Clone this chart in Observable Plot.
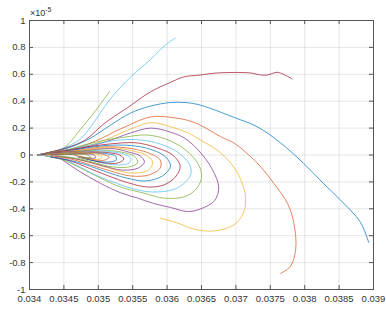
<!DOCTYPE html>
<html><head><meta charset="utf-8">
<script src="https://cdn.jsdelivr.net/npm/d3@7"></script>
<script src="https://cdn.jsdelivr.net/npm/@observablehq/plot@0.6"></script>
<style>body{margin:0;background:#fff;}</style>
</head><body><div id="chart"></div>
<script>
const xTicks = [0.034,0.0345,0.035,0.0355,0.036,0.0365,0.037,0.0375,0.038,0.0385,0.039];
const yTicks = [-1,-0.8,-0.6,-0.4,-0.2,0,0.2,0.4,0.6,0.8,1];
const yExponent = "-5";
const colorOrder = ["#77AC30","#4DBEEE","#A2142F","#0072BD","#D95319","#EDB120","#7E2F8E"];

// x values of each trajectory (outermost first)
const curveX = [
  [0.03412,0.03438,0.03452,0.03474,0.03496,0.03516],
  [0.03412,0.03438,0.03457,0.03474,0.03489,0.03518,0.03547,0.03576,0.03598,0.03612],
  [0.03412,0.03438,0.03457,0.03481,0.03510,0.03542,0.03576,0.03605,0.03624,0.03649,0.03673,0.03721,0.03736,0.03746,0.03760,0.03769,0.03782],
  [0.03412,0.03438,0.03460,0.03489,0.03518,0.03547,0.03576,0.03605,0.03627,0.03649,0.03697,0.03731,0.03765,0.03798,0.03827,0.03852,0.03881,0.03893],
  [0.03412,0.03438,0.03463,0.03496,0.03532,0.03576,0.03605,0.03638,0.03682,0.03697,0.03731,0.03755,0.03775,0.03784,0.03787,0.03779,0.03765],
  [0.03412,0.03438,0.03467,0.03503,0.03540,0.03576,0.03605,0.03630,0.03649,0.03678,0.03702,0.03714,0.03711,0.03697,0.03667,0.03638,0.03615,0.03590],
  [0.03412,0.03438,0.03471,0.03510,0.03547,0.03576,0.03605,0.03627,0.03649,0.03666,0.03675,0.03669,0.03649,0.03630,0.03605,0.03580,0.03557,0.03532,0.03503,0.03474,0.03448],
  [0.03412,0.03431,0.03449,0.03474,0.03503,0.03540,0.03569,0.03598,0.03627,0.03646,0.03650,0.03641,0.03624,0.03595,0.03566,0.03532,0.03503,0.03474,0.03449,0.03423],
  [0.03412,0.03431,0.03449,0.03474,0.03503,0.03532,0.03561,0.03590,0.03617,0.03633,0.03634,0.03615,0.03586,0.03557,0.03525,0.03496,0.03471,0.03449,0.03423],
  [0.03412,0.03431,0.03449,0.03474,0.03503,0.03532,0.03558,0.03586,0.03608,0.03619,0.03612,0.03595,0.03572,0.03544,0.03515,0.03486,0.03460,0.03431],
  [0.03412,0.03431,0.03449,0.03474,0.03503,0.03529,0.03554,0.03579,0.03598,0.03605,0.03593,0.03569,0.03541,0.03512,0.03483,0.03457,0.03431],
  [0.03412,0.03431,0.03449,0.03474,0.03503,0.03529,0.03551,0.03573,0.03590,0.03590,0.03573,0.03547,0.03518,0.03489,0.03460,0.03431],
  [0.03412,0.03431,0.03449,0.03477,0.03503,0.03528,0.03550,0.03569,0.03579,0.03573,0.03551,0.03525,0.03496,0.03467,0.03438],
  [0.03412,0.03431,0.03452,0.03478,0.03503,0.03525,0.03544,0.03561,0.03567,0.03558,0.03535,0.03508,0.03481,0.03460,0.03438],
  [0.03412,0.03431,0.03454,0.03481,0.03503,0.03522,0.03540,0.03554,0.03557,0.03544,0.03521,0.03496,0.03474,0.03445],
  [0.03412,0.03431,0.03455,0.03481,0.03503,0.03521,0.03537,0.03547,0.03545,0.03529,0.03506,0.03484,0.03467],
  [0.03416,0.03457,0.03483,0.03503,0.03518,0.03531,0.03537,0.03529,0.03510,0.03489,0.03471],
  [0.03419,0.03460,0.03484,0.03503,0.03515,0.03525,0.03526,0.03515,0.03496,0.03477],
  [0.03423,0.03460,0.03481,0.03499,0.03510,0.03516,0.03510,0.03496,0.03478,0.03464],
  [0.03423,0.03463,0.03481,0.03496,0.03505,0.03502,0.03489,0.03474],
  [0.03431,0.03465,0.03483,0.03494,0.03496,0.03486,0.03473],
  [0.03438,0.03468,0.03484,0.03489,0.03480,0.03471]
];
// y values (in units of 1e-5) of each trajectory
const curveY = [
  [0,0.03,0.06,0.19,0.33,0.47],
  [0,0.03,0.067,0.119,0.21,0.42,0.58,0.71,0.82,0.87],
  [0,0.03,0.059,0.112,0.24,0.35,0.47,0.54,0.58,0.595,0.61,0.61,0.595,0.595,0.615,0.60,0.565],
  [0,0.03,0.059,0.126,0.223,0.312,0.364,0.39,0.39,0.37,0.28,0.21,0.09,-0.06,-0.21,-0.335,-0.50,-0.65],
  [0,0.03,0.045,0.104,0.193,0.283,0.28,0.245,0.125,0.09,-0.06,-0.21,-0.36,-0.50,-0.70,-0.83,-0.88],
  [0,0.022,0.045,0.097,0.178,0.24,0.21,0.165,0.11,0.015,-0.13,-0.31,-0.43,-0.52,-0.565,-0.55,-0.505,-0.47],
  [0,0.022,0.045,0.097,0.164,0.20,0.17,0.12,0.015,-0.11,-0.24,-0.34,-0.40,-0.42,-0.39,-0.36,-0.32,-0.28,-0.21,-0.126,-0.037],
  [0,0.015,0.030,0.067,0.104,0.134,0.149,0.119,0.037,-0.074,-0.171,-0.260,-0.312,-0.320,-0.283,-0.238,-0.171,-0.097,-0.037,-0.007],
  [0,0.015,0.030,0.059,0.089,0.112,0.112,0.082,0.015,-0.074,-0.149,-0.245,-0.275,-0.260,-0.208,-0.149,-0.082,-0.030,-0.007],
  [0,0.015,0.030,0.052,0.074,0.089,0.089,0.052,0,-0.082,-0.164,-0.223,-0.238,-0.208,-0.156,-0.097,-0.045,-0.015],
  [0,0.015,0.022,0.045,0.067,0.074,0.067,0.037,-0.015,-0.082,-0.156,-0.193,-0.171,-0.126,-0.074,-0.037,-0.015],
  [0,0.015,0.022,0.037,0.059,0.059,0.045,0.015,-0.037,-0.097,-0.149,-0.156,-0.119,-0.074,-0.030,-0.007],
  [0,0.015,0.022,0.037,0.052,0.052,0.030,0,-0.052,-0.112,-0.134,-0.112,-0.067,-0.030,-0.007],
  [0,0.015,0.022,0.030,0.045,0.045,0.022,-0.007,-0.052,-0.097,-0.112,-0.082,-0.045,-0.022,-0.007],
  [0,0.007,0.015,0.030,0.037,0.030,0.015,-0.015,-0.059,-0.089,-0.089,-0.059,-0.030,-0.007],
  [0,0.007,0.015,0.022,0.030,0.022,0.007,-0.022,-0.059,-0.074,-0.059,-0.030,-0.007],
  [0,0.015,0.022,0.022,0.015,0,-0.030,-0.059,-0.059,-0.037,-0.015],
  [0,0.007,0.015,0.015,0.007,-0.007,-0.037,-0.052,-0.045,-0.022],
  [0,0.007,0.015,0.015,0,-0.015,-0.037,-0.037,-0.015,0],
  [0,0.015,0.015,0.007,-0.007,-0.030,-0.030,-0.015],
  [0,0.007,0.007,0,-0.022,-0.022,-0.015],
  [0,0.007,0,-0.015,-0.022,-0.015]
];

const rows = [];
curveX.forEach((xs, i) => xs.forEach((x, j) => rows.push({curve: i, x, y: curveY[i][j], color: colorOrder[i % colorOrder.length]})));

const W = 386, H = 311, mL = 29, mR = 13, mT = 20, mB = 22, tick = 4;
const innerW = W - mL - mR, innerH = H - mT - mB;
const font = "'Liberation Sans', Arial, sans-serif";

const plot = Plot.plot({
  width: W, height: H,
  marginLeft: mL, marginRight: mR, marginTop: mT, marginBottom: mB,
  style: {fontFamily: font, fontSize: "9.5px", color: "#333", background: "#fff"},
  x: {domain: [0.034, 0.039], label: null},
  y: {domain: [-1, 1], label: null},
  color: {type: "identity"},
  marks: [
    Plot.gridX(xTicks, {stroke: "#000", strokeOpacity: 0.1}),
    Plot.gridY(yTicks, {stroke: "#000", strokeOpacity: 0.1}),
    Plot.line(rows, {x: "x", y: "y", z: "curve", stroke: "color", strokeWidth: 0.85, strokeOpacity: 0.85, curve: "catmull-rom"}),
    Plot.frame({stroke: "#555"}),
    // inward ticks on all four sides (MATLAB style)
    Plot.tickX(xTicks, {x: d => d, stroke: "#555", insetTop: innerH - tick}),
    Plot.tickX(xTicks, {x: d => d, stroke: "#555", insetBottom: innerH - tick}),
    Plot.tickY(yTicks, {y: d => d, stroke: "#555", insetRight: innerW - tick}),
    Plot.tickY(yTicks, {y: d => d, stroke: "#555", insetLeft: innerW - tick}),
    Plot.axisX(xTicks, {anchor: "bottom", tickSize: 0, tickPadding: 6, tickFormat: d => String(d)}),
    Plot.axisY(yTicks, {anchor: "left", tickSize: 0, tickPadding: 4, tickFormat: d => String(d)})
  ]
});

const svg = d3.select(plot);
const expo = svg.append("text")
  .attr("x", 30).attr("y", 16)
  .attr("text-anchor", "start")
  .attr("fill", "#333")
  .style("font-family", font)
  .style("font-size", "9px");
expo.append("tspan").text("×10");
expo.append("tspan").attr("dy", -4).style("font-size", "7px").text(yExponent);

document.getElementById("chart").appendChild(plot);
</script>
</body></html>
